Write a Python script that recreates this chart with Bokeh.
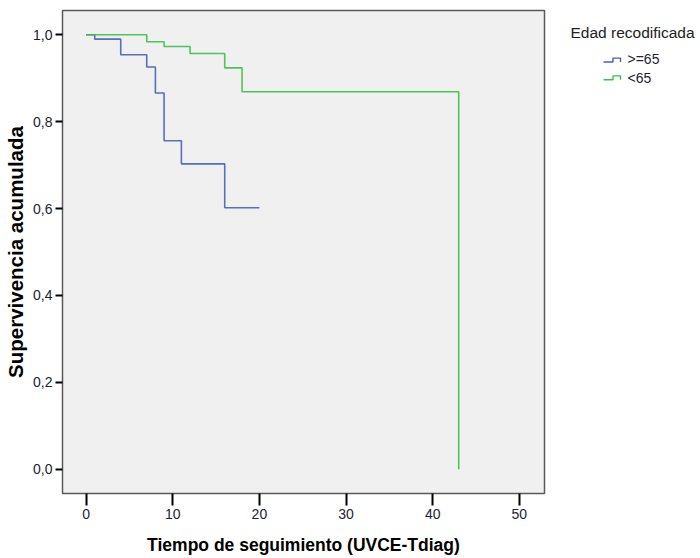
from bokeh.plotting import figure
from bokeh.models import Range1d, FixedTicker
from bokeh.layouts import row
from bokeh.core.properties import value
from bokeh.embed import file_html
from bokeh.resources import INLINE

# ---- data ----
time_old = [0, 1, 4, 7, 8, 9, 11, 16, 20]
surv_old = [1.0, 0.990, 0.954, 0.926, 0.866, 0.756, 0.703, 0.602, 0.602]

time_young = [0, 7, 9, 12, 16, 18, 43]
surv_young = [1.0, 0.984, 0.973, 0.957, 0.924, 0.869, 0.0]

x_ticks = [0, 10, 20, 30, 40, 50]
y_ticks = [0.0, 0.2, 0.4, 0.6, 0.8, 1.0]
y_tick_labels = ["0,0", "0,2", "0,4", "0,6", "0,8", "1,0"]

legend_title = "Edad recodificada"
legend_labels = [">=65", "<65"]
colors = ["#4a5fb5", "#3cbf4a"]

x_label = "Tiempo de seguimiento (UVCE-Tdiag)"
y_label = "Supervivencia acumulada"

SANS = "Liberation Sans"

# ---- main plot ----
p = figure(width=556, height=558, output_backend="svg", toolbar_location=None,
           x_range=Range1d(-2.72, 52.9), y_range=Range1d(-0.056, 1.056),
           min_border_left=62, min_border_right=12, min_border_top=10,
           min_border_bottom=65)
p.background_fill_color = "#f0f0f0"
p.border_fill_color = "white"
p.outline_line_color = "#5a5a5a"
p.outline_line_width = 1.5
p.grid.visible = False

p.step(time_old, surv_old, mode="after", line_color=colors[0], line_width=1.6, line_alpha=0.9)
p.step(time_young, surv_young, mode="after", line_color=colors[1], line_width=1.6, line_alpha=0.9)

p.xaxis.ticker = FixedTicker(ticks=x_ticks)
p.yaxis.ticker = FixedTicker(ticks=y_ticks)
p.yaxis.major_label_overrides = {t: l for t, l in zip(y_ticks, y_tick_labels)}

for ax in (p.xaxis, p.yaxis):
    ax.axis_line_color = None
    ax.minor_tick_line_color = None
    ax.major_tick_line_color = "black"
    ax.major_tick_line_width = 2
    ax.major_tick_in = 0
    ax.major_label_text_font = SANS
    ax.major_label_text_font_size = "14px"
    ax.major_label_text_color = "#222233"
    ax.axis_label_text_font = SANS
    ax.axis_label_text_font_style = "bold"
    ax.axis_label_text_color = "black"

p.xaxis.major_tick_out = 12
p.xaxis.major_label_standoff = 3
p.xaxis.axis_label = x_label
p.xaxis.axis_label_text_font_size = "17.5px"
p.xaxis.axis_label_standoff = 13

p.yaxis.major_tick_out = 7
p.yaxis.major_label_standoff = 3
p.yaxis.axis_label = y_label
p.yaxis.axis_label_text_font_size = "20.5px"
p.yaxis.axis_label_standoff = 3

# ---- legend panel ----
leg = figure(width=144, height=558, output_backend="svg", toolbar_location=None,
             x_range=Range1d(0, 144), y_range=Range1d(558, 0),
             x_axis_type=None, y_axis_type=None, min_border=0)
leg.outline_line_color = None
leg.grid.visible = False
leg.background_fill_color = "white"
leg.border_fill_color = "white"

leg.text(x=[14], y=[25], text=[legend_title], text_baseline="middle", text_align="left",
         text_font=value(SANS), text_font_size="15.5px", text_color="#222222")

row_y = [59.5, 80.0]
icon_xs, icon_ys = [], []
for yc in row_y:
    icon_xs.append([47, 56.5, 56.5, 64, 64])
    icon_ys.append([yc, yc, yc - 4.5, yc - 4.5, yc])
leg.multi_line(icon_xs, icon_ys, line_color=colors, line_width=1.4)
leg.text(x=[71, 71], y=[row_y[0] - 3.5, row_y[1] - 2.5], text=legend_labels, text_baseline="middle",
         text_align="left", text_font=value(SANS), text_font_size="14px", text_color="#222233")

layout = row(p, leg)
open("out.html", "w").write(file_html(layout, INLINE))
